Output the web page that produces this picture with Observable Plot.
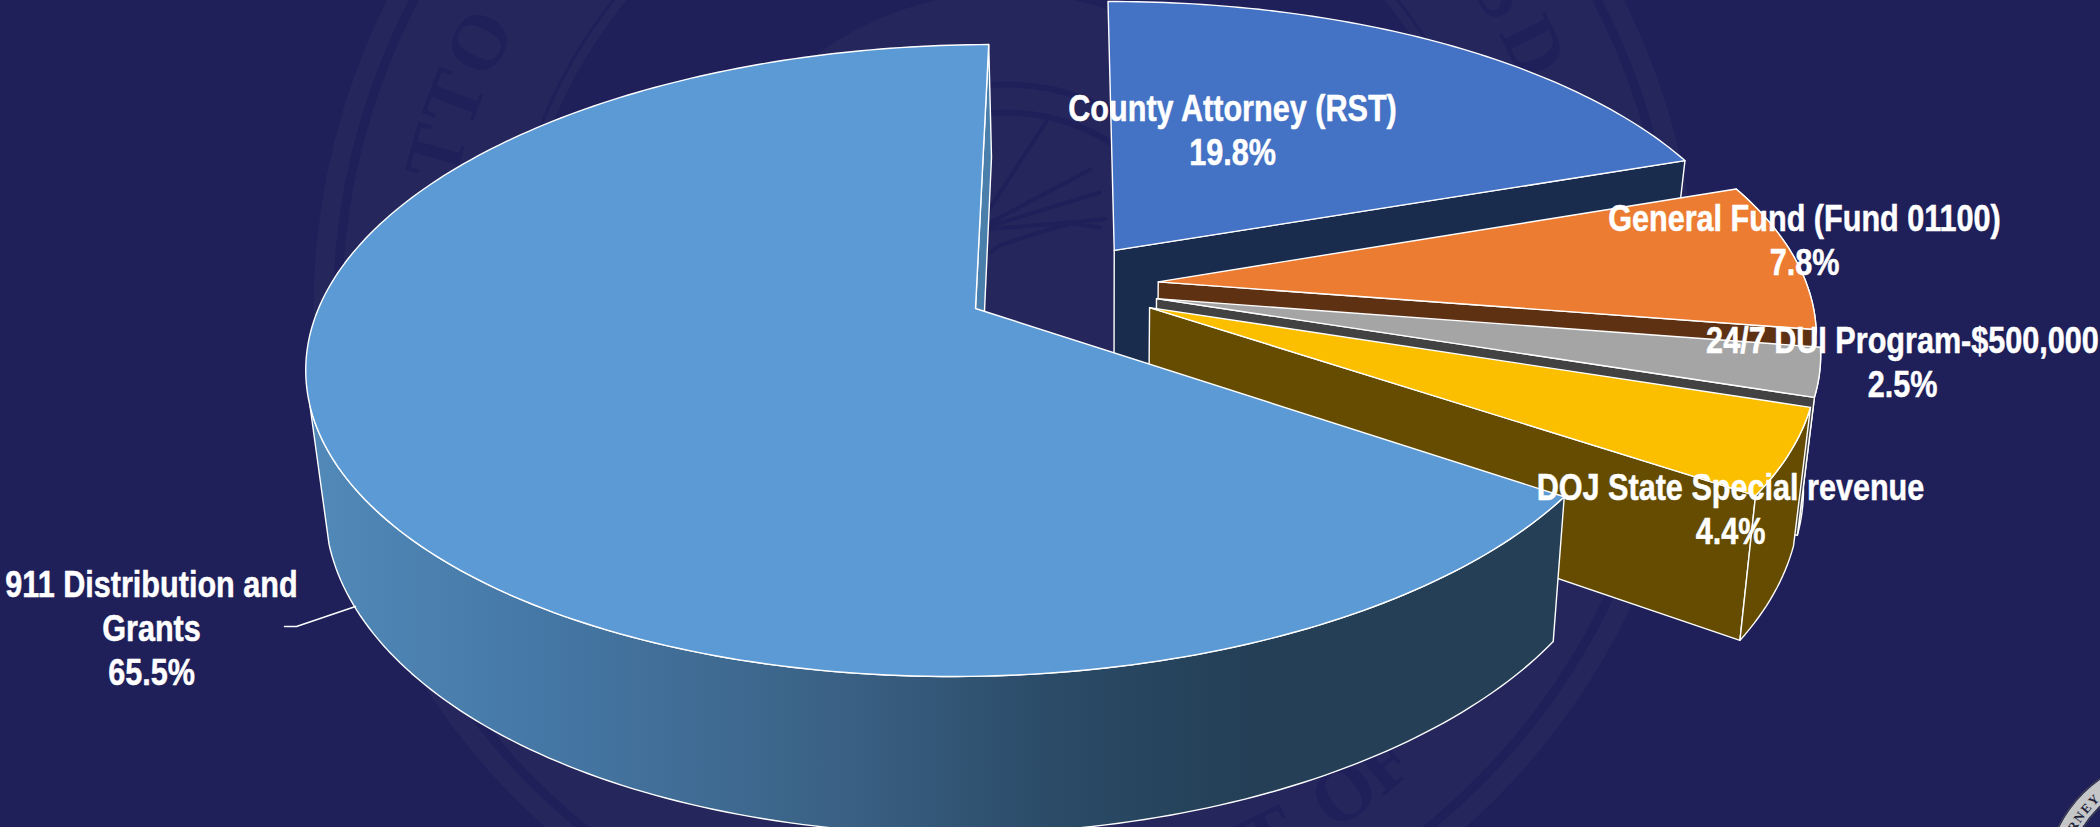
<!DOCTYPE html>
<html><head><meta charset="utf-8">
<script src="https://cdn.jsdelivr.net/npm/d3@7"></script>
<script src="https://cdn.jsdelivr.net/npm/@observablehq/plot@0.6"></script>
<style>
html,body{margin:0;padding:0;background:#1f205a;overflow:hidden;width:2100px;height:827px}
svg{display:block}
</style></head><body><div id="chart"></div>
<script>
// ---- data ----
const categories = ["County Attorney (RST)", "General Fund (Fund 01100)", "24/7 DUI Program-$500,000", "DOJ State Special revenue", "911 Distribution and Grants"];
const shares = [19.8, 7.8, 2.5, 4.4, 65.5];
const topColors = ["#4472c4", "#ec7c31", "#a5a5a5", "#fcbf00", "#5b9ad5"];
const sideColors = ["#1a2c4e", "#5f3113", "#424242", "#654c00", "url(#mainSide)"];
// how far each slice is pulled out of the pie, in units of the pie's radius
const explodeU = [0.212, 0.2795, 0.276, 0.265, 0];
const explodeV = [-0.195, -0.088, -0.0323, -0.003, 0];
const labelLines = [["County Attorney (RST)", "19.8%"], ["General Fund (Fund 01100)", "7.8%"], ["24/7 DUI Program-$500,000", "2.5%"], ["DOJ State Special revenue", "4.4%"], ["911 Distribution and", "Grants", "65.5%"]];
const labelX = [1232, 1804, 1902, 1730, 151];
const labelY = [128, 238, 360, 507, 626];

// ---- perspective model of the pie ----
const cx = 975, cy = 308, R = 657, Ry = 307.4, k = 0.1646, shear = 0.065, H = 131.6, taper = 0.976, vanishDx = 129, startAngle = -0.4;
const mainSilhouetteAngle = 252.5;
const rad = d => d * Math.PI / 180;
function project(u, v, depth) {
  const s = 1 / (1 - k * v);
  const dy = Ry * v * s;
  const dx = R * u * s - shear * dy;
  return depth ? {x: cx + vanishDx + (dx - vanishDx) * taper, y: cy + dy + H * s} : {x: cx + dx, y: cy + dy};
}
const cum = d3.cumsum(shares);
const slices = shares.map((d, i) => ({
  i,
  a0: startAngle + (i ? cum[i - 1] : 0) * 3.6,
  a1: startAngle + cum[i] * 3.6,
  eu: explodeU[i], ev: explodeV[i]
}));
const rim = (s, t, depth) => project(s.eu + Math.sin(rad(t)), s.ev - Math.cos(rad(t)), depth);
const apex = (s, depth) => project(s.eu, s.ev, depth);
const angles = (a, b) => { const n = Math.max(2, Math.ceil(Math.abs(b - a))); return d3.range(n + 1).map(j => a + (b - a) * j / n); };
const topFace = s => [apex(s, false), ...angles(s.a0, s.a1).map(t => rim(s, t, false))];
const radial = (s, t) => [apex(s, false), rim(s, t, false), rim(s, t, true), apex(s, true)];
const arcSide = (s, a, b) => [...angles(a, b).map(t => rim(s, t, false)), ...angles(b, a).map(t => rim(s, t, true))];
const poly = (pts, fill, strokeWidth = 1.4) => Plot.line(pts, {x: "x", y: "y", fill, stroke: "#fff", strokeWidth, strokeLinejoin: "round", curve: "linear-closed"});

const [county, general, dui, doj, main] = slices;

// ---- faint seal behind the chart ----
const sealX = 1005, sealY = 310, sealTextR = 590;
const sealC = [{x: sealX, y: sealY}];
const wmLight = "#25265c", wmDark = "#1f205a";
const ring = (r, fill, stroke, w) => Plot.dot(sealC, {x: "x", y: "y", r, fill, stroke, strokeWidth: w});
const polar = (x0, y0, r, a) => ({x: x0 + r * Math.sin(rad(a)), y: y0 - r * Math.cos(rad(a))});
const sealChars = ["T", "T", "O", "S", "D", "T", "O", "F"];
const sealAngles = [285.5, 291, 297, 57.5, 63.5, 153.5, 145, 140];
const sealFlip = [0, 0, 0, 0, 0, 1, 1, 1];
const sealLetters = sealChars.map((c, i) => ({c, ...polar(sealX, sealY, sealTextR, sealAngles[i]), rot: sealAngles[i] - (sealFlip[i] ? 180 : 0)}));
const rayAngles = [33, 62, 73, 85];
const raySegs = rayAngles.flatMap(a => [{a, ...polar(975, 230, 10, a)}, {a, ...polar(975, 230, 130, a)}]);
const ridgeX = [990, 999, 1014, 1055, 1070, 1100];
const ridgeY = [252, 245, 240, 227, 223, 227];
const ridge = ridgeX.map((x, i) => ({x, y: ridgeY[i]}));

const cornerX = 2175, cornerY = 885;
const cornerC = [{x: cornerX, y: cornerY}];
const cornerChars = ["R", "N", "E", "Y", "O"];
const cornerAngles = [300, 305.4, 310.8, 316.2, 327];
const cornerLetters = cornerChars.map((c, i) => ({c, ...polar(cornerX, cornerY, 118, cornerAngles[i]), rot: cornerAngles[i]}));

const defs = () => {
  const d = d3.create("svg:defs");
  const g = d.append("linearGradient").attr("id", "mainSide").attr("gradientUnits", "userSpaceOnUse")
    .attr("x1", 310).attr("x2", 1250).attr("y1", 0).attr("y2", 0);
  [[0, "#5189b9"], [0.25, "#4577a5"], [0.55, "#3b6286"], [0.8, "#2a4a66"], [1, "#243f56"]]
    .forEach(([o, c]) => g.append("stop").attr("offset", o).attr("stop-color", c));
  return d.node();
};

const labelRows = labelLines.map((lines, i) => ({text: lines.join("\n"), x: labelX[i], y: labelY[i]}));
const leaderX = [355, 296, 284], leaderY = [606, 626, 626];
const leader = leaderX.map((x, i) => ({x, y: leaderY[i]}));

const plot = Plot.plot({
  width: 2100, height: 827,
  marginTop: 0, marginRight: 0, marginBottom: 0, marginLeft: 0,
  x: {domain: [0, 2100], range: [0, 2100], axis: null},
  y: {domain: [0, 827], range: [0, 827], axis: null},
  style: {background: "#1f205a", overflow: "hidden"},
  marks: [
    defs,
    ring(692, wmLight, "none", 0),
    ring(668, "none", wmDark, 9),
    ring(500, "none", wmDark, 3),
    ring(490, wmDark, "none", 0),
    ring(318, wmLight, "none", 0),
    ring(226, "none", wmDark, 6),
    ring(198, "none", wmDark, 6),
    Plot.line(raySegs, {x: "x", y: "y", z: "a", stroke: wmDark, strokeWidth: 4}),
    Plot.line(ridge, {x: "x", y: "y", stroke: wmDark, strokeWidth: 4}),
    Plot.text(sealLetters, {x: "x", y: "y", text: "c", rotate: "rot", fill: wmDark, fontSize: 78, fontWeight: "bold", fontFamily: "Liberation Serif"}),
    Plot.dot(cornerC, {x: "x", y: "y", r: 120, fill: "none", stroke: "#c4c6c8", strokeWidth: 20}),
    Plot.dot(cornerC, {x: "x", y: "y", r: 131, fill: "none", stroke: "#3c3d55", strokeWidth: 1.5}),
    Plot.dot(cornerC, {x: "x", y: "y", r: 109, fill: "none", stroke: "#3c3d55", strokeWidth: 1.5}),
    Plot.text(cornerLetters, {x: "x", y: "y", text: "c", rotate: "rot", fill: "#22233a", fontSize: 13, fontWeight: "bold", fontFamily: "Liberation Serif"}),

    // pulled-out slices, back to front
    poly(radial(county, county.a1), sideColors[0]),
    poly(topFace(county), topColors[0]),
    poly(arcSide(general, general.a0, general.a1), sideColors[1]),
    poly(radial(general, general.a1), sideColors[1]),
    poly(topFace(general), topColors[1]),
    poly(arcSide(dui, dui.a0, dui.a1), sideColors[2]),
    poly(radial(dui, dui.a1), sideColors[2]),
    poly(topFace(dui), topColors[2]),
    poly(radial(doj, doj.a1), sideColors[3]),
    poly(arcSide(doj, doj.a0, doj.a1), sideColors[3]),
    poly(topFace(doj), topColors[3]),

    // the big slice
    poly(radial(main, main.a1), "#4a7fab"),
    poly(arcSide(main, main.a0, mainSilhouetteAngle), sideColors[4]),
    poly(topFace(main), topColors[4]),

    Plot.line(leader, {x: "x", y: "y", stroke: "#fff", strokeWidth: 1.5}),
    Plot.text(labelRows, {x: "x", y: "y", text: "text", className: "pie-label", fill: "#fff", stroke: "#fff", strokeWidth: 0.5, fontSize: 37, fontWeight: "bold", lineHeight: 1.19, fontFamily: "'Liberation Sans', sans-serif"})
  ]
});
document.getElementById("chart").append(plot);
// the reference's labels are set in a narrow face: squeeze the installed bold sans to that width
plot.querySelectorAll(".pie-label text").forEach(t => t.setAttribute("transform", (t.getAttribute("transform") || "") + " scale(0.827,1)"));
</script></body></html>
